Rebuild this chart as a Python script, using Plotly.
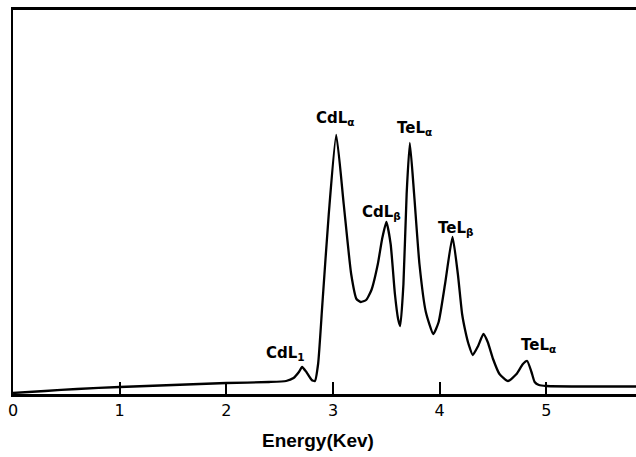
import plotly.graph_objects as go

# Energy (keV) and relative intensity
energy = [0, 0.3, 0.6, 1.0, 1.5, 2.0, 2.4, 2.56, 2.63, 2.68, 2.71, 2.75, 2.80, 2.83,
          2.86, 2.90, 2.96, 3.03, 3.10, 3.17, 3.22, 3.26, 3.31, 3.36, 3.42, 3.46,
          3.50, 3.54, 3.58, 3.61, 3.63, 3.66, 3.69, 3.72, 3.76, 3.81, 3.87, 3.94,
          3.99, 4.05, 4.12, 4.17, 4.21, 4.24, 4.27, 4.31, 4.36, 4.41, 4.45, 4.50,
          4.56, 4.64, 4.72, 4.78, 4.82, 4.86, 4.89, 4.93, 5.0, 5.4, 5.84]
intensity = [1, 3, 5, 7, 9, 11, 12, 13, 16, 22, 27, 22, 14, 13,
             30, 90, 180, 259, 190, 120, 95, 92, 94, 104, 130, 155,
             172, 150, 100, 75, 68, 110, 200, 251, 200, 130, 82, 60,
             72, 110, 157, 120, 80, 63, 50, 39, 48, 60, 52, 35,
             20, 13, 20, 30, 33, 22, 12, 9, 8, 7.5, 7.5]

# Peak labels
label_text = ["CdL<sub>α</sub>", "TeL<sub>α</sub>", "CdL<sub>β</sub>",
              "TeL<sub>β</sub>", "CdL<sub>1</sub>", "TeL<sub>α</sub>"]
label_x = [3.02, 3.76, 3.45, 4.15, 2.55, 4.93]
label_y = [276, 266, 182, 166, 41, 49]

tick_vals = [0, 1, 2, 3, 4, 5]
tick_text = ["0", "1", "2", "3", "4", "5"]

fig = go.Figure()
fig.add_trace(go.Scatter(
    x=energy, y=intensity, mode="lines",
    line=dict(color="black", width=2.3, shape="spline", smoothing=0.5),
    hoverinfo="skip", showlegend=False,
))

for t, x, y in zip(label_text, label_x, label_y):
    fig.add_annotation(x=x, y=y, xref="x", yref="y", text="<b>" + t + "</b>",
                       showarrow=False,
                       font=dict(family="DejaVu Sans", size=15, color="black"),
                       xanchor="center", yanchor="middle")

fig.add_annotation(x=(318 - 13) / 623, y=(394 - 440) / 384, xref="paper", yref="paper",
                   text="<b>Energy(Kev)</b>", showarrow=False,
                   font=dict(family="Liberation Sans", size=19, color="black"),
                   xanchor="center", yanchor="middle")

fig.update_xaxes(range=[0, 5.84], tickvals=tick_vals, ticktext=tick_text,
                 ticks="inside", ticklen=12, tickwidth=2, tickcolor="black",
                 showline=True, linecolor="black", linewidth=2.5, mirror=True,
                 showgrid=False, zeroline=False,
                 tickfont=dict(family="DejaVu Sans", size=16, color="black"))
fig.update_yaxes(range=[0, 384], showline=True, linecolor="black", linewidth=2,
                 showticklabels=False, ticks="", showgrid=False, zeroline=False)

fig.update_layout(width=636, height=457,
                  margin=dict(l=13, r=0, t=10, b=63),
                  paper_bgcolor="white", plot_bgcolor="white")

fig.write_html("out.html")
